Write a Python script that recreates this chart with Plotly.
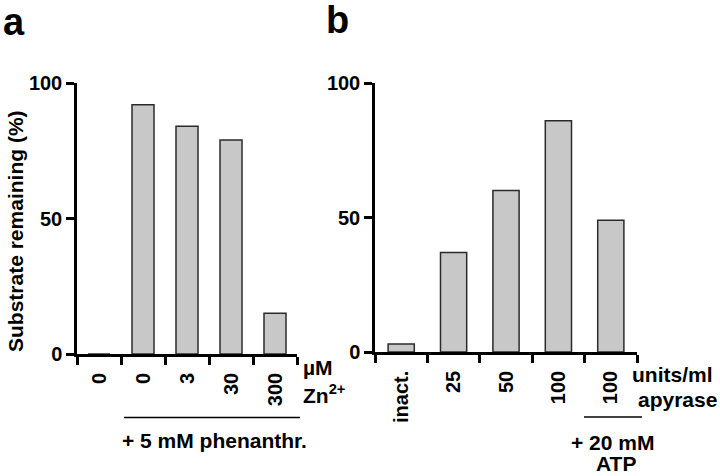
import plotly.graph_objects as go

W, H = 720, 476

# ---- data ----
a_labels = ["0", "0", "3", "30", "300"]
a_values = [0, 92, 84, 79, 15]
b_labels = ["inact.", "25", "50", "100", "100"]
b_values = [3, 37, 60, 86, 49]
y_ticks = [0, 50, 100]

FONT = "Liberation Sans, Arial, Helvetica, sans-serif"
BAR_FILL = "#c8c8c8"
BAR_LINE = "#2b2b2b"

def px_x(p):
    return p / W

def px_y(p):
    return (H - p) / H

fig = go.Figure()

fig.add_trace(go.Bar(x=list(range(len(a_values))), y=a_values, width=0.5,
                     marker=dict(color=BAR_FILL, line=dict(color=BAR_LINE, width=1.5)),
                     xaxis="x", yaxis="y", showlegend=False))
fig.add_trace(go.Bar(x=list(range(len(b_values))), y=b_values, width=0.5,
                     marker=dict(color=BAR_FILL, line=dict(color=BAR_LINE, width=1.5)),
                     xaxis="x2", yaxis="y2", showlegend=False))

tickfont = dict(family=FONT, size=20, color="black")

def xaxis(domain, labels, anchor):
    return dict(
        domain=domain, anchor=anchor, range=[-0.5, len(labels) - 0.5],
        tickmode="array", tickvals=list(range(len(labels))),
        ticktext=["<b>%s</b>" % t for t in labels],
        tickangle=-90, ticks="outside", ticklen=0, tickwidth=0,
        ticklabelstandoff=8, automargin=False,
        showline=True, linecolor="black", linewidth=2.5,
        showgrid=False, zeroline=False, tickfont=tickfont, fixedrange=True,
        minor=dict(tickmode="linear", tick0=-0.5, dtick=1, ticks="outside",
                   ticklen=8, tickwidth=2.5, tickcolor="black", showgrid=False),
    )

def yaxis(domain, anchor):
    return dict(
        domain=domain, anchor=anchor, range=[0, 100],
        tickmode="array", tickvals=y_ticks,
        ticktext=["<b>%d</b>" % v for v in y_ticks],
        ticks="outside", ticklen=8, automargin=False,
        tickwidth=2.5, tickcolor="black",
        showline=True, linecolor="black", linewidth=2.5,
        showgrid=False, zeroline=False, tickfont=tickfont, fixedrange=True,
    )

fig.update_layout(
    width=W, height=H,
    margin=dict(l=0, r=0, t=0, b=0, pad=0, autoexpand=False),
    paper_bgcolor="white", plot_bgcolor="white",
    font=dict(family=FONT, size=20, color="black"),
    bargap=0.5, showlegend=False,
    xaxis=xaxis([px_x(77), px_x(297)], a_labels, "y"),
    yaxis=yaxis([px_y(354), px_y(83)], "x"),
    xaxis2=xaxis([px_x(375), px_x(637)], b_labels, "y2"),
    yaxis2=yaxis([px_y(352), px_y(83)], "x2"),
)

def note(text, x, y, size=21, xanchor="center", yanchor="middle", angle=0):
    fig.add_annotation(text=text, x=px_x(x), y=px_y(y), xref="paper", yref="paper",
                       showarrow=False, xanchor=xanchor, yanchor=yanchor,
                       textangle=angle, borderpad=0,
                       font=dict(family=FONT, size=size, color="black"))

note("<b>a</b>", 2, 22, size=38, xanchor="left")
note("<b>b</b>", 325, 20, size=38, xanchor="left")
note("<b>Substrate remaining (%)</b>", 15, 231, angle=-90)

note("<b>µM</b>", 302, 367, xanchor="left")
note("<b>Zn<sup>2+</sup></b>", 302, 394, xanchor="left")
note("<b>+ 5 mM phenanthr.</b>", 214, 440)

note("<b>units/ml</b>", 631, 374, xanchor="left")
note("<b>apyrase</b>", 637, 399, xanchor="left")
note("<b>+ 20 mM</b>", 612, 442)
note("<b>ATP</b>", 616, 476, yanchor="bottom")

fig.add_shape(type="line", xref="paper", yref="paper",
              x0=px_x(124), x1=px_x(300), y0=px_y(417.5), y1=px_y(417.5),
              line=dict(color="black", width=1.5))
fig.add_shape(type="line", xref="paper", yref="paper",
              x0=px_x(584), x1=px_x(642), y0=px_y(417), y1=px_y(417),
              line=dict(color="black", width=1.5))

fig.write_html("out.html", config={"displayModeBar": False},
               post_script="document.body.style.margin='0';")
